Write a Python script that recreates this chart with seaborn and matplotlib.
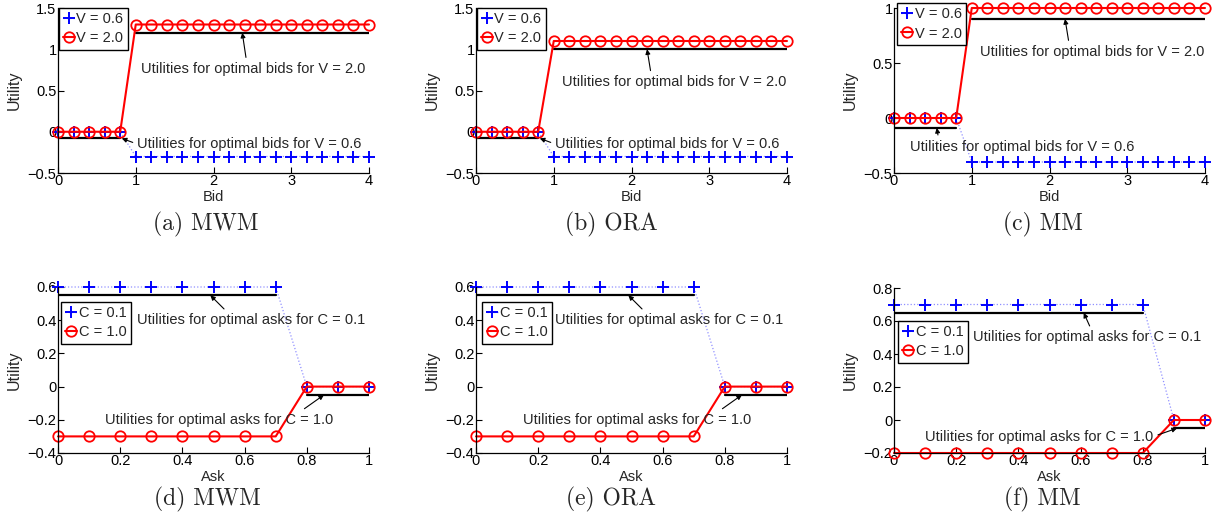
import matplotlib
matplotlib.use('Agg')
import matplotlib.pyplot as plt
from matplotlib.ticker import FuncFormatter
import seaborn as sns

# x values
bid = [0.0, 0.2, 0.4, 0.6, 0.8, 1.0, 1.2, 1.4, 1.6, 1.8, 2.0,
       2.2, 2.4, 2.6, 2.8, 3.0, 3.2, 3.4, 3.6, 3.8, 4.0]
ask = [0.0, 0.1, 0.2, 0.3, 0.4, 0.5, 0.6, 0.7, 0.8, 0.9, 1.0]

# buyer utilities (V = 0.6 and V = 2.0)
mwm_v06 = [0, 0, 0, 0, 0, -0.3, -0.3, -0.3, -0.3, -0.3, -0.3,
           -0.3, -0.3, -0.3, -0.3, -0.3, -0.3, -0.3, -0.3, -0.3, -0.3]
mwm_v20 = [0, 0, 0, 0, 0, 1.3, 1.3, 1.3, 1.3, 1.3, 1.3,
           1.3, 1.3, 1.3, 1.3, 1.3, 1.3, 1.3, 1.3, 1.3, 1.3]
ora_v06 = [0, 0, 0, 0, 0, -0.3, -0.3, -0.3, -0.3, -0.3, -0.3,
           -0.3, -0.3, -0.3, -0.3, -0.3, -0.3, -0.3, -0.3, -0.3, -0.3]
ora_v20 = [0, 0, 0, 0, 0, 1.1, 1.1, 1.1, 1.1, 1.1, 1.1,
           1.1, 1.1, 1.1, 1.1, 1.1, 1.1, 1.1, 1.1, 1.1, 1.1]
mm_v06 = [0, 0, 0, 0, 0, -0.4, -0.4, -0.4, -0.4, -0.4, -0.4,
          -0.4, -0.4, -0.4, -0.4, -0.4, -0.4, -0.4, -0.4, -0.4, -0.4]
mm_v20 = [0, 0, 0, 0, 0, 1.0, 1.0, 1.0, 1.0, 1.0, 1.0,
          1.0, 1.0, 1.0, 1.0, 1.0, 1.0, 1.0, 1.0, 1.0, 1.0]

# seller utilities (C = 0.1 and C = 1.0)
mwm_c01 = [0.6, 0.6, 0.6, 0.6, 0.6, 0.6, 0.6, 0.6, 0, 0, 0]
mwm_c10 = [-0.3, -0.3, -0.3, -0.3, -0.3, -0.3, -0.3, -0.3, 0, 0, 0]
ora_c01 = [0.6, 0.6, 0.6, 0.6, 0.6, 0.6, 0.6, 0.6, 0, 0, 0]
ora_c10 = [-0.3, -0.3, -0.3, -0.3, -0.3, -0.3, -0.3, -0.3, 0, 0, 0]
mm_c01 = [0.7, 0.7, 0.7, 0.7, 0.7, 0.7, 0.7, 0.7, 0.7, 0, 0]
mm_c10 = [-0.2, -0.2, -0.2, -0.2, -0.2, -0.2, -0.2, -0.2, -0.2, 0, 0]

# optimal-utility segments (x range, y level)
opt_bid_lo_x = [0, 0.8]
opt_bid_hi_x = [1, 4]
mwm_opt_bid = [-0.08, 1.2]
ora_opt_bid = [-0.08, 1.0]
mm_opt_bid = [-0.09, 0.9]

mwm_opt_ask_x = ([0, 0.7], [0.8, 1])
ora_opt_ask_x = ([0, 0.7], [0.8, 1])
mm_opt_ask_x = ([0, 0.8], [0.9, 1])
mwm_opt_ask = [0.55, -0.05]
ora_opt_ask = [0.55, -0.05]
mm_opt_ask = [0.65, -0.05]

sns.set_style('ticks')
plt.rcParams['font.family'] = ['Liberation Sans', 'DejaVu Sans']
plt.rcParams['axes.unicode_minus'] = True

W, H = 1215, 524
fig = plt.figure(figsize=(W / 100, H / 100), dpi=100)

fmt = FuncFormatter(lambda v, p: f'{v:g}'.replace('-', '\u2212'))

panels = [
    dict(pos=(58, 173, 311, 165), x=bid, lo=mwm_v06, hi=mwm_v20,
         optx=(opt_bid_lo_x, opt_bid_hi_x), opty=mwm_opt_bid,
         labels=('V = 0.6', 'V = 2.0'), xlabel='Bid', ylim=(-0.5, 1.5),
         yticks=[-0.5, 0, 0.5, 1, 1.5], xticks=[0, 1, 2, 3, 4], xlim=(0, 4),
         leg=(0.003, 1.0), cap='(a) MWM', capx=206,
         notes=[('Utilities for optimal bids for V = 2.0', (1.07, 0.76), (2.37, 1.2), (0.47, 1)),
                ('Utilities for optimal bids for V = 0.6', (1.02, -0.15), (0.82, -0.08), (0, 0.5))]),
    dict(pos=(476, 173, 311, 165), x=bid, lo=ora_v06, hi=ora_v20,
         optx=(opt_bid_lo_x, opt_bid_hi_x), opty=ora_opt_bid,
         labels=('V = 0.6', 'V = 2.0'), xlabel='Bid', ylim=(-0.5, 1.5),
         yticks=[-0.5, 0, 0.5, 1, 1.5], xticks=[0, 1, 2, 3, 4], xlim=(0, 4),
         leg=(0.003, 1.0), cap='(b) ORA', capx=611,
         notes=[('Utilities for optimal bids for V = 2.0', (1.1, 0.6), (2.2, 1.0), (0.4, 1)),
                ('Utilities for optimal bids for V = 0.6', (1.02, -0.15), (0.82, -0.08), (0, 0.5))]),
    dict(pos=(894, 173, 311, 165), x=bid, lo=mm_v06, hi=mm_v20,
         optx=(opt_bid_lo_x, opt_bid_hi_x), opty=mm_opt_bid,
         labels=('V = 0.6', 'V = 2.0'), xlabel='Bid', ylim=(-0.5, 1.0),
         yticks=[-0.5, 0, 0.5, 1], xticks=[0, 1, 2, 3, 4], xlim=(0, 4),
         leg=(0.01, 1.03), cap='(c) MM', capx=1043,
         notes=[('Utilities for optimal bids for V = 2.0', (1.1, 0.6), (2.2, 0.9), (0.4, 1)),
                ('Utilities for optimal bids for V = 0.6', (0.2, -0.26), (0.55, -0.09), (0.13, 1))]),
    dict(pos=(58, 453, 311, 166), x=ask, lo=mwm_c01, hi=mwm_c10,
         optx=mwm_opt_ask_x, opty=mwm_opt_ask,
         labels=('C = 0.1', 'C = 1.0'), xlabel='Ask', ylim=(-0.4, 0.6),
         yticks=[-0.4, -0.2, 0, 0.2, 0.4, 0.6], xticks=[0, 0.2, 0.4, 0.6, 0.8, 1], xlim=(0, 1),
         leg=(0.01, 0.91), cap='(d) MWM', capx=207,
         notes=[('Utilities for optimal asks for C = 0.1', (0.254, 0.4), (0.49, 0.55), (0.4, 1)),
                ('Utilities for optimal asks for C = 1.0', (0.15, -0.2), (0.855, -0.05), (0.85, 1))]),
    dict(pos=(476, 453, 311, 166), x=ask, lo=ora_c01, hi=ora_c10,
         optx=ora_opt_ask_x, opty=ora_opt_ask,
         labels=('C = 0.1', 'C = 1.0'), xlabel='Ask', ylim=(-0.4, 0.6),
         yticks=[-0.4, -0.2, 0, 0.2, 0.4, 0.6], xticks=[0, 0.2, 0.4, 0.6, 0.8, 1], xlim=(0, 1),
         leg=(0.02, 0.91), cap='(e) ORA', capx=611,
         notes=[('Utilities for optimal asks for C = 0.1', (0.254, 0.4), (0.49, 0.55), (0.4, 1)),
                ('Utilities for optimal asks for C = 1.0', (0.15, -0.2), (0.855, -0.05), (0.85, 1))]),
    dict(pos=(894, 453, 311, 165), x=ask, lo=mm_c01, hi=mm_c10,
         optx=mm_opt_ask_x, opty=mm_opt_ask,
         labels=('C = 0.1', 'C = 1.0'), xlabel='Ask', ylim=(-0.2, 0.8),
         yticks=[-0.2, 0, 0.2, 0.4, 0.6, 0.8], xticks=[0, 0.2, 0.4, 0.6, 0.8, 1], xlim=(0, 1),
         leg=(0.013, 0.8), cap='(f) MM', capx=1042,
         notes=[('Utilities for optimal asks for C = 0.1', (0.254, 0.5), (0.61, 0.65), (0.52, 1)),
                ('Utilities for optimal asks for C = 1.0', (0.1, -0.1), (0.91, -0.05), (1, 0.5))]),
]

for i, p in enumerate(panels):
    l, b, w, h = p['pos']
    ax = fig.add_axes([l / W, 1 - b / H, w / W, h / H])

    # optimal utility segments
    for sx, sy in zip(p['optx'], p['opty']):
        sns.lineplot(x=sx, y=[sy, sy], ax=ax, color='black', lw=1.6, errorbar=None)

    sns.lineplot(x=p['x'], y=p['lo'], ax=ax, color='#8f8fff', ls=':', lw=0.9,
                 marker='+', mec='blue', mfc='blue', ms=8, mew=1.4, errorbar=None,
                 clip_on=False)
    blue = ax.lines[-1]
    sns.lineplot(x=p['x'], y=p['hi'], ax=ax, color='red', lw=1.5,
                 marker='o', mec='red', mfc='none', ms=7.5, mew=1.3, errorbar=None,
                 clip_on=False)
    red = ax.lines[-1]

    ax.set_xlim(*p['xlim'])
    ax.set_ylim(*p['ylim'])
    ax.set_xticks(p['xticks'])
    ax.set_yticks(p['yticks'])
    ax.xaxis.set_major_formatter(fmt)
    ax.yaxis.set_major_formatter(fmt)
    ax.tick_params(direction='in', length=4, width=0.8, labelsize=10.5, pad=1, colors='black')
    sns.despine(ax=ax)
    for s in ('left', 'bottom'):
        ax.spines[s].set_linewidth(0.9)
        ax.spines[s].set_color('black')

    ax.set_xlabel(p['xlabel'], fontsize=10.5)
    ax.set_ylabel('Utility', fontsize=11.5)
    ax.xaxis.set_label_coords(0.5, -0.105)
    ax.yaxis.set_label_coords(-0.115, 0.5)

    leg = ax.legend([blue, red], p['labels'], loc='upper left', bbox_to_anchor=p['leg'],
                    borderaxespad=0, fontsize=10.5, handlelength=0.8, handletextpad=0.1,
                    borderpad=0.3, labelspacing=0.35, fancybox=False, framealpha=1,
                    edgecolor='black')
    leg.get_frame().set_linewidth(1.0)

    for txt, xyt, xy, rp in p['notes']:
        ax.annotate(txt, xy=xy, xytext=xyt, ha='left', va='center', fontsize=10.5,
                    arrowprops=dict(arrowstyle='-|>', color='black', lw=0.8,
                                    mutation_scale=7, relpos=rp, shrinkA=1, shrinkB=0))

    capy = 0.571 if i < 3 else 0.046
    fig.text(p['capx'] / W, capy, p['cap'], ha='center', va='center',
             fontsize=17, family='cmr10')

fig.savefig('out.png', dpi=100)
